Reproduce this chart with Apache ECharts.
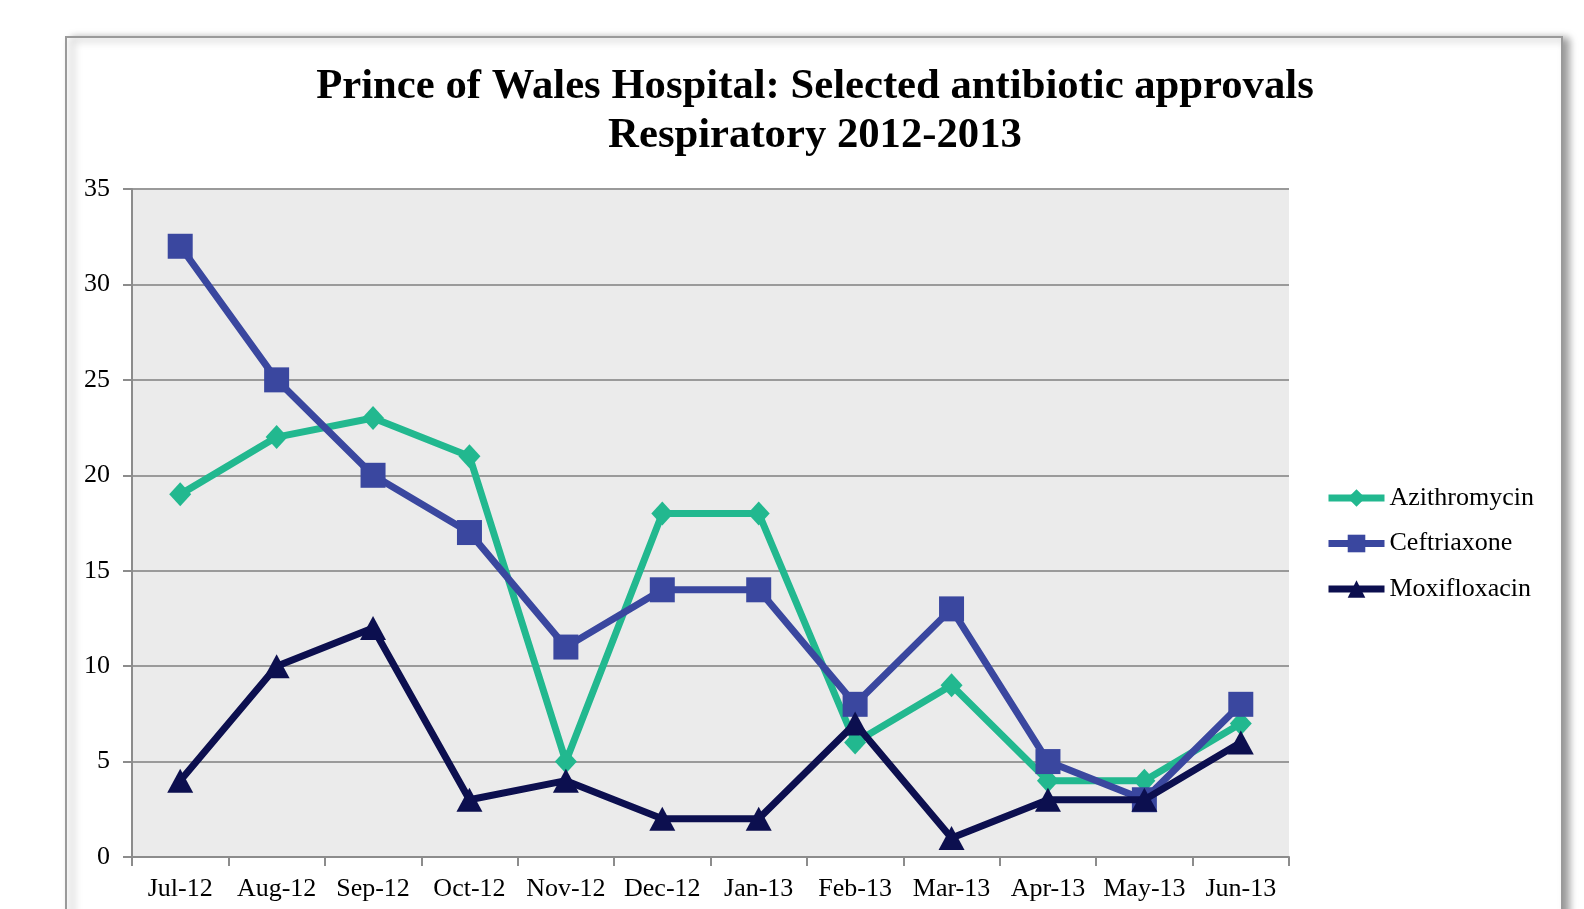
<!DOCTYPE html>
<html lang="en">
<head>
<meta charset="UTF-8" />
<title>Prince of Wales Hospital: Selected antibiotic approvals</title>
<style>
    body { margin: 0; background: #fff; }
    #chart { width: 1584px; height: 909px; }
</style>
<script src="https://cdn.jsdelivr.net/npm/echarts@6/dist/echarts.min.js"></script>
</head>
<body>
<div id="chart"></div>
<script>
    // data
    const months = ['Jul-12', 'Aug-12', 'Sep-12', 'Oct-12', 'Nov-12', 'Dec-12',
                    'Jan-13', 'Feb-13', 'Mar-13', 'Apr-13', 'May-13', 'Jun-13'];
    const azithromycin = [19, 22, 23, 21, 5, 18, 18, 6, 9, 4, 4, 7];
    const ceftriaxone = [32, 25, 20, 17, 11, 14, 14, 8, 13, 5, 3, 8];
    const moxifloxacin = [4, 10, 12, 3, 4, 2, 2, 7, 1, 3, 3, 6];
    const yTicks = [0, 5, 10, 15, 20, 25, 30, 35];

    const font = '"Liberation Serif", "Times New Roman", serif';

    const chart = echarts.init(document.getElementById('chart'));
    chart.setOption({
        animation: false,
        textStyle: { fontFamily: font, color: '#000' },
        graphic: [{
            type: 'rect',
            z: -10,
            shape: { x: 66, y: 37, width: 1496, height: 900 },
            style: {
                fill: '#fff',
                stroke: '#9a9a9a',
                lineWidth: 2,
                shadowBlur: 8,
                shadowOffsetX: 6,
                shadowOffsetY: 2,
                shadowColor: 'rgba(0,0,0,0.4)'
            }
        }],
        title: {
            text: 'Prince of Wales Hospital: Selected antibiotic approvals\nRespiratory 2012-2013',
            left: 810,
            textAlign: 'center',
            top: 57,
            textStyle: {
                fontFamily: font,
                fontSize: 42.7,
                fontWeight: 'bold',
                lineHeight: 49,
                color: '#000'
            }
        },
        legend: {
            orient: 'vertical',
            left: 1320,
            top: 480,
            itemWidth: 56,
            itemHeight: 22,
            itemGap: 19.5,
            lineStyle: { width: 7 },
            textStyle: { fontFamily: font, fontSize: 26, color: '#000' },
            data: ['Azithromycin', 'Ceftriaxone', 'Moxifloxacin']
        },
        grid: {
            left: 132,
            top: 189,
            right: 295,
            bottom: 52,
            show: true,
            backgroundColor: '#ebebeb',
            borderWidth: 0
        },
        xAxis: {
            type: 'category',
            data: months,
            boundaryGap: true,
            axisLine: { lineStyle: { color: '#8c8c8c', width: 2 } },
            axisTick: { show: true, length: 9, lineStyle: { color: '#8c8c8c', width: 2 } },
            axisLabel: { fontFamily: font, fontSize: 26, color: '#000', margin: 19, interval: 0 }
        },
        yAxis: {
            type: 'value',
            min: yTicks[0],
            max: yTicks[yTicks.length - 1],
            interval: 5,
            axisLine: { show: true, lineStyle: { color: '#8c8c8c', width: 2 } },
            axisTick: { show: true, length: 9, lineStyle: { color: '#8c8c8c', width: 2 } },
            splitLine: { lineStyle: { color: '#9a9a9a', width: 2 } },
            axisLabel: { fontFamily: font, fontSize: 26, color: '#000', margin: 22 }
        },
        series: [
            {
                name: 'Azithromycin',
                type: 'line',
                data: azithromycin,
                symbol: 'diamond',
                symbolSize: [22, 24],
                color: '#22b88f',
                lineStyle: { width: 7 },
                z: 2
            },
            {
                name: 'Ceftriaxone',
                type: 'line',
                data: ceftriaxone,
                symbol: 'rect',
                symbolSize: 25,
                color: '#3a479f',
                lineStyle: { width: 7 },
                z: 3
            },
            {
                name: 'Moxifloxacin',
                type: 'line',
                data: moxifloxacin,
                symbol: 'triangle',
                symbolSize: [26, 24],
                color: '#0c0f4f',
                lineStyle: { width: 7 },
                z: 4
            }
        ]
    });
</script>
</body>
</html>
